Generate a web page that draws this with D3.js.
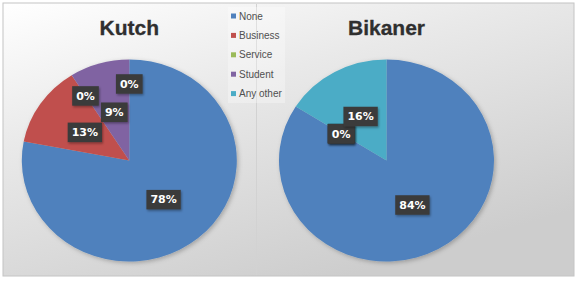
<!DOCTYPE html>
<html>
<head>
<meta charset="utf-8">
<script src="https://cdn.jsdelivr.net/npm/d3@7"></script>
<style>
  html, body { margin: 0; padding: 0; background: #ffffff; }
  svg { display: block; }
</style>
</head>
<body>
<div id="chart"></div>
<script>
// ---- data ----
const categories = ["None", "Business", "Service", "Student", "Any other"];
const regions = ["Kutch", "Bikaner"];
const kutchValues = [78, 13, 0, 9, 0];
const bikanerValues = [84, 0, 0, 0, 16];
const colors = ["#4f81bd", "#c0504d", "#9bbb59", "#8064a2", "#4bacc6"];
// label distance from centre (fraction of radius), per slice
const kutchLabelRadius = [0.5, 0.5, 0.76, 0.5, 0.76];
const bikanerLabelRadius = [0.5, 0.5, 0.5, 0.5, 0.5];

const W = 578, H = 281;
const svg = d3.select("#chart").append("svg").attr("width", W).attr("height", H);
const defs = svg.append("defs");

const bg = defs.append("linearGradient").attr("id", "bg")
  .attr("x1", "0%").attr("y1", "0%").attr("x2", "60%").attr("y2", "100%");
bg.append("stop").attr("offset", "0%").attr("stop-color", "#ffffff");
bg.append("stop").attr("offset", "40%").attr("stop-color", "#e9e9e9");
bg.append("stop").attr("offset", "100%").attr("stop-color", "#cdcdcd");

const sh = defs.append("filter").attr("id", "pieShadow")
  .attr("x", "-10%").attr("y", "-10%").attr("width", "125%").attr("height", "125%");
sh.append("feDropShadow").attr("dx", 1.5).attr("dy", 1.5).attr("stdDeviation", 2)
  .attr("flood-color", "#000").attr("flood-opacity", 0.25);

const lsh = defs.append("filter").attr("id", "lblShadow")
  .attr("x", "-20%").attr("y", "-20%").attr("width", "150%").attr("height", "160%");
lsh.append("feDropShadow").attr("dx", 1).attr("dy", 1.5).attr("stdDeviation", 1.2)
  .attr("flood-color", "#000").attr("flood-opacity", 0.35);

// frame
svg.append("rect").attr("x", 3).attr("y", 3).attr("width", 571).attr("height", 273)
  .attr("fill", "url(#bg)").attr("stroke", "#c4c4c4").attr("stroke-width", 1);
svg.append("line").attr("x1", 256.5).attr("x2", 256.5).attr("y1", 4).attr("y2", 275)
  .attr("stroke", "#d2d2d2").attr("stroke-width", 1);

const color = d3.scaleOrdinal().domain(categories).range(colors);
const pie = d3.pie().sort(null).value(d => d.value);

const charts = [
  { name: regions[0], values: kutchValues, lr: kutchLabelRadius, cx: 129.3 },
  { name: regions[1], values: bikanerValues, lr: bikanerLabelRadius, cx: 386.5 }
];
const cy = 160.5, ry = 101, rx = 107.5;
const sx = rx / ry;

charts.forEach(c => {
  const data = categories.map((k, i) => ({ key: k, value: c.values[i], lr: c.lr[i] }));
  const arcs = pie(data);

  // title
  svg.append("text").attr("x", c.cx).attr("y", 35)
    .attr("text-anchor", "middle")
    .attr("font-family", "Liberation Sans, Arial, sans-serif")
    .attr("font-weight", "bold").attr("font-size", 21)
    .attr("fill", "#2f2f2f").attr("stroke", "#2f2f2f").attr("stroke-width", 0.3)
    .text(c.name);

  const g = svg.append("g")
    .attr("transform", `translate(${c.cx},${cy}) scale(${sx},1)`)
    .attr("filter", "url(#pieShadow)");
  const arc = d3.arc().innerRadius(0).outerRadius(ry);
  g.selectAll("path").data(arcs.filter(d => d.data.value > 0)).join("path")
    .attr("d", arc).attr("fill", d => color(d.data.key));

  // labels
  const lg = svg.append("g").attr("transform", `translate(${c.cx},${cy})`);
  arcs.forEach(d => {
    const r = ry * d.data.lr;
    const la = d3.arc().innerRadius(r).outerRadius(r);
    const [px, py] = la.centroid(d);
    const x = px * sx, y = py;
    const grp = lg.append("g").attr("transform", `translate(${x},${y})`);
    const t = grp.append("text").attr("text-anchor", "middle").attr("dy", "0.37em")
      .attr("font-family", "DejaVu Sans, Verdana, sans-serif")
      .attr("font-weight", "bold").attr("font-size", 11)
      .attr("fill", "#ffffff").text(d.data.value + "%");
    const tw = t.node().getComputedTextLength();
    grp.insert("rect", "text")
      .attr("x", -tw / 2 - 4).attr("y", -9.5)
      .attr("width", tw + 8).attr("height", 19.5)
      .attr("fill", "#3b3b3b").attr("filter", "url(#lblShadow)");
  });
});

// legend
const leg = svg.append("g");
leg.append("rect").attr("x", 228).attr("y", 7).attr("width", 57).attr("height", 96)
  .attr("fill", "#ffffff").attr("opacity", 0.3);
categories.forEach((k, i) => {
  const y = 16 + i * 19.4;
  leg.append("rect").attr("x", 231).attr("y", y - 2.5).attr("width", 5).attr("height", 5)
    .attr("fill", color(k));
  leg.append("text").attr("x", 239).attr("y", y).attr("dy", "0.35em")
    .attr("font-family", "Liberation Sans, Arial, sans-serif")
    .attr("font-size", 10).attr("fill", "#505050").text(k);
});
</script>
</body>
</html>
